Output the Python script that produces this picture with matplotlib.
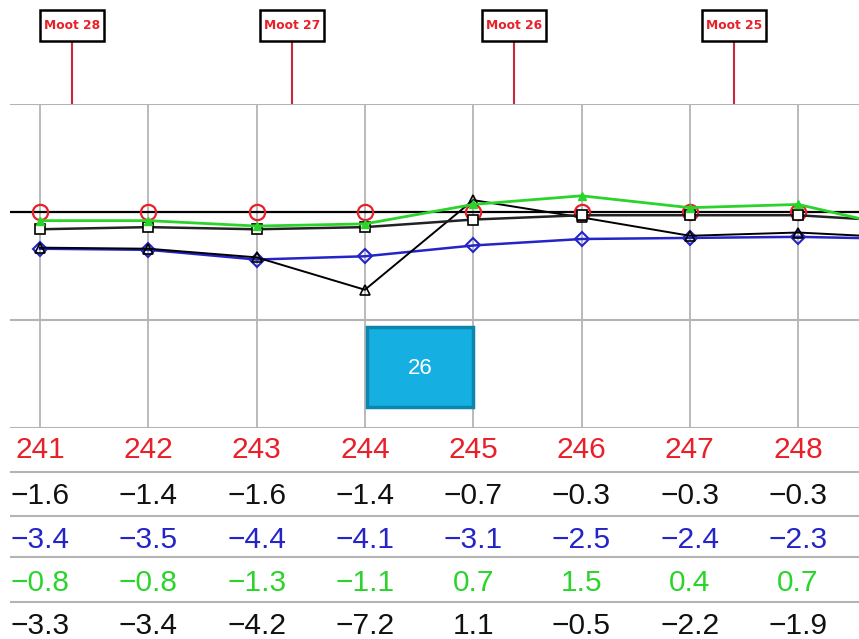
"""
Moot chart - recreate of the day 241-248 table plot
"""

import matplotlib
matplotlib.use("Agg")
import matplotlib.pyplot as plt
from matplotlib.patches import Rectangle

# ===================== data =====================
days = [241, 242, 243, 244, 245, 246, 247, 248]
# the lines run on past the right edge to day 249 (off the picture)
line_days = days + [249]

row_black1 = [-1.6, -1.4, -1.6, -1.4, -0.7, -0.3, -0.3, -0.3]
row_blue = [-3.4, -3.5, -4.4, -4.1, -3.1, -2.5, -2.4, -2.3]
row_green = [-0.8, -0.8, -1.3, -1.1, 0.7, 1.5, 0.4, 0.7]
row_black2 = [-3.3, -3.4, -4.2, -7.2, 1.1, -0.5, -2.2, -1.9]
row_red = [0, 0, 0, 0, 0, 0, 0, 0]

# estimated day-249 values (only the line stubs at the right edge show)
next_black1 = -0.9
next_blue = -2.5
next_green = -1.6
next_black2 = -2.4

moot_days = [241.3, 243.33, 245.38, 247.41]
moot_labels = ["Moot 28", "Moot 27", "Moot 26", "Moot 25"]

badge_text = "26"

# ===================== style =====================
W, H = 859, 639
PX = 108.3            # pixels per day
PY = 10.8             # pixels per unit
GRID = "#b4b4b4"
RED = "#e8202a"
BLUE = "#2424c8"
GREEN = "#2bd42b"
TABLE_FONT = "Liberation Sans"

fig = plt.figure(figsize=(W / 100, H / 100), dpi=100)

# plot area: pixels 104..428 from the top, full width
ax = fig.add_axes([0, 1 - 428 / H, 1, 324 / H])
x0 = days[0] - 40 / PX
x1 = days[0] + (W - 40) / PX
ax.set_xlim(x0, x1)
ax.set_ylim(-20, 10)
ax.axis("off")

xl = days[0] - 30 / PX
ax.vlines(days, -20, 10, color=GRID, lw=1.3, zorder=1)
ax.hlines([10, -10, -20], xl, x1, color=GRID, lw=1.5, zorder=1)
ax.hlines(0, xl, x1, color="black", lw=1.6, zorder=2)

ax.plot(days, row_red, ls="none", marker="o", ms=11, mfc="none",
        mec=RED, mew=1.6, zorder=3)
ax.plot(line_days, row_blue + [next_blue], color=BLUE, lw=1.8,
        marker="D", ms=7.5, mfc="none", mec=BLUE, mew=1.5, zorder=4,
        markevery=list(range(len(days))))
ax.plot(line_days, row_black2 + [next_black2], color="black", lw=1.4,
        marker="^", ms=7, mfc="none", mec="black", mew=1.2, zorder=5,
        markevery=list(range(len(days))))
ax.plot(line_days, row_black1 + [next_black1], color="#222222", lw=1.8,
        marker="s", ms=7, mfc="white", mec="black", mew=1.2, zorder=5,
        markevery=list(range(len(days))))
ax.plot(line_days, row_green + [next_green], color=GREEN, lw=2.0,
        marker="^", ms=6, mfc=GREEN, mec=GREEN, zorder=6,
        markevery=list(range(len(days))))

# moot flags above the plot: box 64x31 px, top edge 10 px from the top
box_w = 64 / PX
box_h = 31 / PY
box_bot = 10 + (104 - 41) / PY
ax.vlines(moot_days, 10, box_bot, color="#c8283c", lw=1.5, clip_on=False)
for d, lab in zip(moot_days, moot_labels):
    ax.add_patch(Rectangle((d - box_w / 2, box_bot), box_w, box_h,
                           fc="white", ec="black", lw=1.8, clip_on=False,
                           zorder=6))
    ax.text(d, box_bot + box_h / 2, lab, ha="center", va="center",
            color=RED, fontsize=8.8, fontweight="bold", clip_on=False,
            zorder=7)

# cyan badge
ax.add_patch(Rectangle((367 / W, (428 - 407) / 324), 106 / W, 80 / 324,
                       transform=ax.transAxes, fc="#15afe2", ec="#0c86ad",
                       lw=2.5, zorder=7))
ax.text(420 / W, (428 - 368) / 324, badge_text, transform=ax.transAxes,
        ha="center", va="center", color="white", fontsize=16,
        family=TABLE_FONT, zorder=8)

# ===================== table =====================
tab = fig.add_axes([0, 0, 1, 1 - 428 / H])
tab.set_xlim(x0, x1)
tab.set_ylim(H, 428)
tab.axis("off")
tab.hlines([472, 516, 557, 602], xl, x1, color=GRID, lw=1.5)


def fmt(v):
    return f"{v:.1f}".replace("-", "\u2212")


rows = [
    ([str(d) for d in days], RED, 458),
    ([fmt(v) for v in row_black1], "#111111", 504),
    ([fmt(v) for v in row_blue], BLUE, 548),
    ([fmt(v) for v in row_green], GREEN, 591),
    ([fmt(v) for v in row_black2], "#111111", 634),
]
for labels, col, base in rows:
    for d, lab in zip(days, labels):
        tab.text(d, base, lab, ha="center", va="baseline", color=col,
                 fontsize=21.5, family=TABLE_FONT)

fig.savefig("out.png", dpi=100)
